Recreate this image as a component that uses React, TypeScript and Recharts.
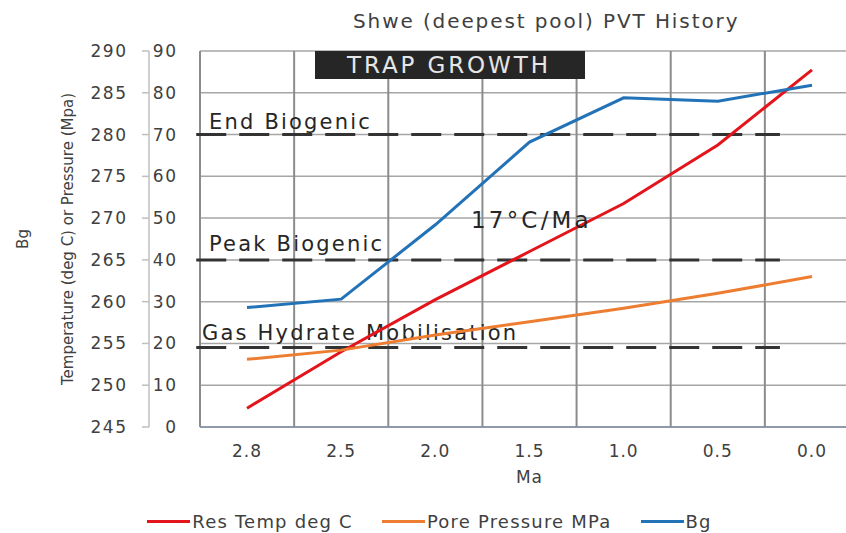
import React from 'react';
import { LineChart, Line, XAxis, YAxis, CartesianGrid, ReferenceLine, Legend } from 'recharts';

// ---- data ----
const categories = ['2.8', '2.5', '2.0', '1.5', '1.0', '0.5', '0.0'];
const resTemp = [4.5, 18, 30.5, 42, 53.5, 67.5, 85.5];
const porePressure = [16.2, 18.4, 22, 25.2, 28.4, 32, 36];
const bgValues = [259.3, 260.3, 269.2, 279.1, 284.4, 284.0, 285.9];

const tempTicks = [0, 10, 20, 30, 40, 50, 60, 70, 80, 90];
const bgTicks = [245, 250, 255, 260, 265, 270, 275, 280, 285, 290];
const bandCount = categories.length;
const bandEdges = Array.from({ length: bandCount + 1 }, (_, i) => i);

const thresholdNames = ['End Biogenic', 'Peak Biogenic', 'Gas Hydrate Mobilisation'];
const thresholdValues = [70, 40, 19];
// extent of the dashed threshold lines, in category-band units from the plot's left edge
const thresholdSpan = [-0.04, 6.16];

const TEMP_AXIS = 'primary';
const BG_AXIS = 'secondary';

const seriesNames = ['Res Temp deg C', 'Pore Pressure MPa', 'Bg'];
const seriesKeys = ['resTemp', 'pore', 'bg'];
const seriesAxes = [TEMP_AXIS, TEMP_AXIS, BG_AXIS];

// ---- styles ----
const seriesColors = ['#E3141B', '#ED7D31', '#2272B8'];
const FONT = '"DejaVu Sans", Verdana, sans-serif';
const TEXT = '#404040';
const thresholdLabelOffsets = [
  { dx: 9, dy: 6 },
  { dx: 9, dy: 9 },
  { dx: 2, dy: 8 },
];

const data = categories.map((ma, i) => ({
  ma,
  resTemp: resTemp[i],
  pore: porePressure[i],
  bg: bgValues[i],
}));

const YTick = (props: any) => {
  const { x, y, payload } = props;
  return (
    <text x={x} y={y} textAnchor="end" dominantBaseline="central" fill={TEXT} fontFamily={FONT} fontSize={17} letterSpacing={1.5}>
      {payload.value}
    </text>
  );
};

const XTick = (props: any) => {
  const { x, y, payload } = props;
  return (
    <text x={x} y={y} dy="0.71em" textAnchor="middle" fill={TEXT} fontFamily={FONT} fontSize={17} letterSpacing={1}>
      {payload.value}
    </text>
  );
};

const maLabel = (p: any) => {
  const vb = p.viewBox || {};
  return (
    <text x={vb.x + vb.width / 2} y={vb.y + 56} textAnchor="middle" fill={TEXT} fontFamily={FONT} fontSize={17} letterSpacing={1}>
      Ma
    </text>
  );
};

const bgLabel = (p: any) => {
  const vb = p.viewBox || {};
  const cx = vb.x + 23;
  const cy = vb.y + vb.height / 2;
  return (
    <text x={cx} y={cy} transform={`rotate(-90 ${cx} ${cy})`} textAnchor="middle" dominantBaseline="central" fill={TEXT} fontFamily={FONT} fontSize={15}>
      Bg
    </text>
  );
};

const tempLabel = (p: any) => {
  const vb = p.viewBox || {};
  const cx = vb.x - 81;
  const cy = vb.y + vb.height / 2;
  return (
    <text x={cx} y={cy} transform={`rotate(-90 ${cx} ${cy})`} textAnchor="middle" dominantBaseline="central" fill={TEXT} fontFamily={FONT} fontSize={15}>
      Temperature (deg C) or Pressure (Mpa)
    </text>
  );
};

const makeThresholdLabel = (text: string, i: number) => (p: any) => {
  const vb = p.viewBox || {};
  const o = thresholdLabelOffsets[i];
  return (
    <text x={vb.x + o.dx} y={vb.y - o.dy} fill="#262626" fontFamily={FONT} fontSize={21} letterSpacing={2.2}>
      {text}
    </text>
  );
};

const thresholdShape = (p: any) => {
  const { x1, x2, y1, stroke, strokeWidth, strokeDasharray } = p;
  const w = x2 - x1;
  return (
    <line
      x1={x1 + (w * thresholdSpan[0]) / bandCount}
      x2={x1 + (w * thresholdSpan[1]) / bandCount}
      y1={y1}
      y2={y1}
      stroke={stroke}
      strokeWidth={strokeWidth}
      strokeDasharray={strokeDasharray}
    />
  );
};

const gridVerticals = ({ offset }: any) => bandEdges.map((i) => offset.left + (offset.width * i) / bandCount);

const LegendContent = () => (
  <div
    style={{
      display: 'flex',
      justifyContent: 'center',
      alignItems: 'center',
      height: 24,
      fontFamily: FONT,
      fontSize: 18,
      color: TEXT,
      letterSpacing: 1.2,
      whiteSpace: 'nowrap',
    }}
  >
    {seriesNames.map((n, i) => (
      <div key={n} style={{ display: 'flex', alignItems: 'center', marginLeft: i ? 29 : 0 }}>
        <span style={{ display: 'inline-block', width: 43, height: 3, background: seriesColors[i], marginRight: 2 }} />
        <span>{n}</span>
      </div>
    ))}
  </div>
);

export default function App() {
  return (
    <div style={{ position: 'absolute', left: 0, top: 0, width: 846, height: 533, overflow: 'hidden', background: '#fff' }}>
      <LineChart width={870} height={533} data={data} margin={{ top: 51, right: 11, bottom: 0, left: 0 }} style={{ fontFamily: FONT }}>
        <CartesianGrid yAxisId={TEMP_AXIS} vertical={false} stroke="#a6a6a6" strokeWidth={1.5} />
        <CartesianGrid yAxisId={TEMP_AXIS} horizontal={false} stroke="#8c8c8c" strokeWidth={2} verticalCoordinatesGenerator={gridVerticals} />
        <XAxis
          dataKey="ma"
          type="category"
          padding={{ left: 47, right: 47 }}
          height={82}
          tickLine={false}
          tickSize={6}
          tickMargin={12}
          axisLine={{ stroke: '#7d8fa5', strokeWidth: 1.5 }}
          tick={XTick}
          interval={0}
          label={maLabel}
        />
        <XAxis xAxisId="pos" type="number" domain={[0, bandCount]} hide height={0} allowDataOverflow />
        <YAxis
          yAxisId={TEMP_AXIS}
          domain={[0, 90]}
          ticks={tempTicks}
          width={51}
          axisLine={false}
          tickLine={false}
          tickSize={6}
          tickMargin={16.5}
          tick={YTick}
          interval={0}
          label={tempLabel}
        />
        <YAxis
          yAxisId={BG_AXIS}
          domain={[245, 290]}
          ticks={bgTicks}
          width={149}
          axisLine={{ stroke: '#bfbfbf', strokeWidth: 1.5 }}
          tickLine={{ stroke: '#bfbfbf', strokeWidth: 1.5 }}
          tickSize={7}
          tickMargin={14.5}
          tick={YTick}
          interval={0}
          label={bgLabel}
        />
        {thresholdValues.map((v, i) => (
          <ReferenceLine
            key={thresholdNames[i]}
            xAxisId="pos"
            yAxisId={TEMP_AXIS}
            y={v}
            ifOverflow="visible"
            stroke="#333333"
            strokeWidth={3}
            strokeDasharray="30 13"
            shape={thresholdShape}
            label={makeThresholdLabel(thresholdNames[i], i)}
          />
        ))}
        {seriesKeys.map((k, i) => (
          <Line
            key={k}
            yAxisId={seriesAxes[i]}
            dataKey={k}
            name={seriesNames[i]}
            type="linear"
            stroke={seriesColors[i]}
            strokeWidth={3}
            dot={false}
            activeDot={false}
            isAnimationActive={false}
          />
        ))}
        <Legend verticalAlign="bottom" align="center" content={LegendContent} />
      </LineChart>
      <svg width={846} height={533} style={{ position: 'absolute', left: 0, top: 0, pointerEvents: 'none' }}>
        <text x={353} y={28} fill={TEXT} fontFamily={FONT} fontSize={20} letterSpacing={1.9}>
          Shwe (deepest pool) PVT History
        </text>
        <rect x={315} y={51} width={270} height={28} fill="#262626" />
        <text x={347} y={73} fill="#e6e6e6" fontFamily={FONT} fontSize={23} letterSpacing={2.9}>
          TRAP GROWTH
        </text>
        <text x={471} y={228} fill="#262626" fontFamily={FONT} fontSize={23} letterSpacing={3.2}>
          17°C/Ma
        </text>
      </svg>
    </div>
  );
}
